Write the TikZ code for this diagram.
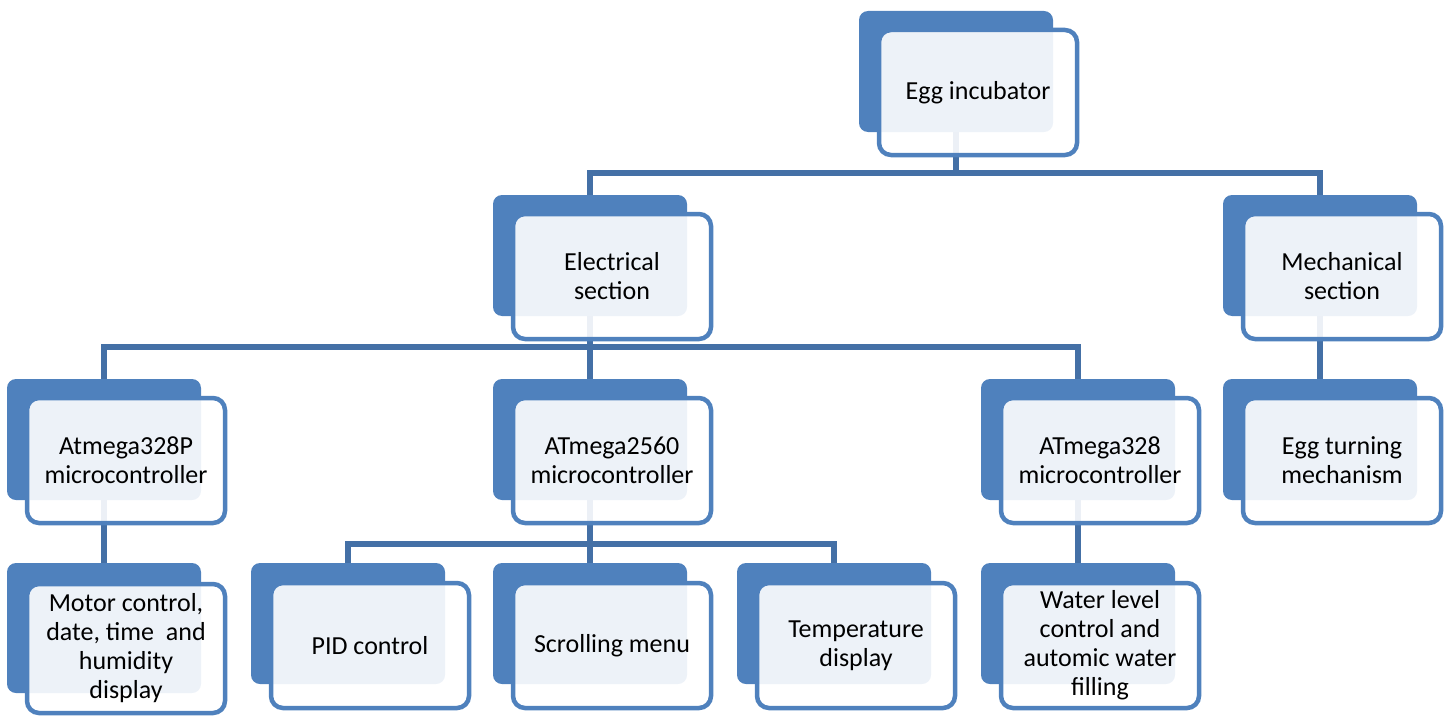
\documentclass[tikz,border=0pt]{standalone}
\usepackage{fontspec}
\setmainfont{Carlito}
\definecolor{backblue}{RGB}{79,129,189}
\definecolor{connblue}{RGB}{68,112,166}
\tikzset{
  backbox/.style={fill=backblue, rounded corners=9pt, minimum width=194pt, minimum height=121pt,
    anchor=north west, inner sep=0pt, outer sep=0pt},
  frontbox/.style={draw=backblue, line width=4.5pt, fill=white, fill opacity=0.9, text opacity=1,
    rounded corners=12pt, minimum width=198pt, minimum height=125pt, anchor=north west,
    align=center, inner sep=0pt, outer sep=0pt, font=\fontsize{26}{29}\selectfont},
  conn/.style={draw=connblue, line width=5.5pt},
}
\begin{document}
\begin{tikzpicture}[x=1pt,y=-1pt]
\useasboundingbox (0,0) rectangle (1453,717);
% back boxes
\node[backbox] (egg) at (859,11) {};
\node[backbox] (elec) at (493,195) {};
\node[backbox] (mech) at (1223,195) {};
\node[backbox] (a328p) at (7,379) {};
\node[backbox] (a2560) at (493,379) {};
\node[backbox] (a328) at (981,379) {};
\node[backbox] (turn) at (1223,379) {};
\node[backbox, minimum height=130pt] (motor) at (7,563) {};
\node[backbox] (pid) at (251,563) {};
\node[backbox] (scroll) at (493,563) {};
\node[backbox] (temp) at (737,563) {};
\node[backbox] (water) at (981,563) {};
% connectors
\draw[conn] (egg.south) -- ++(0,41) -| (elec.north);
\draw[conn] (egg.south) -- ++(0,41) -| (mech.north);
\draw[conn] (elec.south) -- ++(0,31) -| (a328p.north);
\draw[conn] (elec.south) -- ++(0,31) -| (a328.north);
\draw[conn] (elec.south) -- (a2560.north);
\draw[conn] (mech.south) -- (turn.north);
\draw[conn] (a328p.south) -- (motor.north);
\draw[conn] (a2560.south) -- ++(0,44) -| (pid.north);
\draw[conn] (a2560.south) -- ++(0,44) -| (temp.north);
\draw[conn] (a2560.south) -- (scroll.north);
\draw[conn] (a328.south) -- (water.north);
% front boxes
\node[frontbox] (eggF) at (879,30) {Egg incubator};
\node[frontbox] (elecF) at (513,214) {Electrical\\section};
\node[frontbox] (mechF) at (1243,214) {Mechanical\\section};
\node[frontbox] (a328pF) at (27,398) {Atmega328P\\microcontroller};
\node[frontbox] (a2560F) at (513,398) {ATmega2560\\microcontroller};
\node[frontbox] (a328F) at (1001,398) {ATmega328\\microcontroller};
\node[frontbox] (turnF) at (1243,398) {Egg turning\\mechanism};
\node[frontbox, minimum height=129pt] (motorF) at (27,584) {Motor control,\\date, time\ \ and\\humidity\\display};
\node[frontbox] (pidF) at (271,583) {PID control};
\node[frontbox] (scrollF) at (513,583) {Scrolling menu};
\node[frontbox] (tempF) at (757,583) {Temperature\\display};
\node[frontbox] (waterF) at (1001,583) {Water level\\control and\\automic water\\filling};
\end{tikzpicture}
\end{document}
